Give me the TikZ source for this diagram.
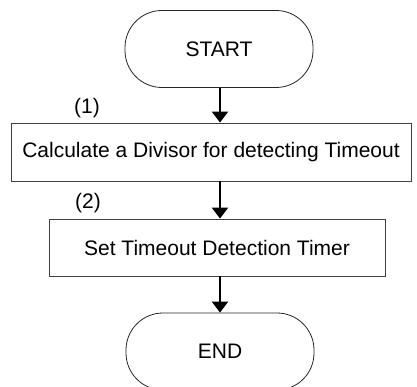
\documentclass[tikz,border=0pt]{standalone}
\usepackage{fontspec}
\setmainfont{Liberation Sans}
\usetikzlibrary{arrows.meta}
\begin{document}
\begin{tikzpicture}[x=1pt,y=-1pt,
  term/.style={draw=black!85, line width=0.8pt, rounded corners=37pt, minimum width=188pt, minimum height=77pt, inner sep=0pt, font=\fontsize{21}{24}\selectfont},
  proc/.style={draw=black!75, line width=0.8pt, inner sep=0pt, font=\fontsize{21}{24}\selectfont},
  lbl/.style={inner sep=0pt, font=\fontsize{21}{24}\selectfont},
  flow/.style={line width=2pt, -{Triangle[length=11pt,width=16pt]}}]
\useasboundingbox (0,0) rectangle (417,387);
\clip (0,0) rectangle (417,387);
\node[term] (start) at (219,49) {START};
\node[proc, minimum width=400pt, minimum height=58pt] (calc) at (211,152) {Calculate a Divisor for detecting Timeout};
\node[proc, minimum width=336pt, minimum height=57pt] (set) at (217,247.5) {Set Timeout Detection Timer};
\node[term] (end) at (220,351.5) {END};
\node[lbl] (l1) at (87,108) {(1)};
\node[lbl] (l2) at (88,203) {(2)};
\draw[flow] (start.south -| 220,0) -- (calc.north -| 220,0);
\draw[flow] (calc.south -| 220,0) -- (set.north -| 220,0);
\draw[flow] (set.south -| 220,0) -- (end.north -| 220,0);
\end{tikzpicture}
\end{document}
